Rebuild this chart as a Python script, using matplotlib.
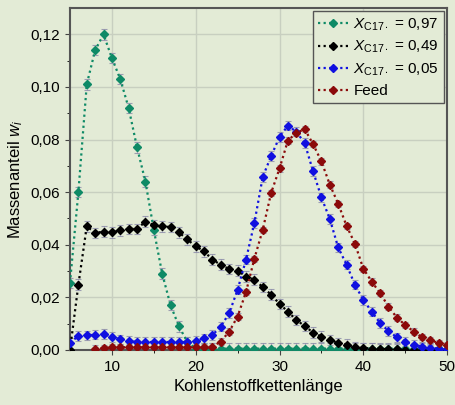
import matplotlib
matplotlib.use("Agg")
import matplotlib.pyplot as plt
import numpy as np

plt.rcParams["font.family"] = ["Liberation Sans", "DejaVu Sans"]
plt.rcParams["mathtext.fontset"] = "custom"
plt.rcParams["mathtext.rm"] = "Liberation Sans"
plt.rcParams["mathtext.it"] = "Liberation Sans:italic"

chain_length = list(range(5, 51))

x097 = [0.0255, 0.060, 0.101, 0.114, 0.120, 0.111, 0.103, 0.092, 0.077, 0.064,
        0.0457, 0.029, 0.017, 0.009, 0.003] + [0.0005] * 31
x049 = [0.0, 0.0248, 0.047, 0.0445, 0.045, 0.0447, 0.0455, 0.046, 0.046, 0.0488,
        0.0475, 0.047, 0.0467, 0.0447, 0.042, 0.0394, 0.0375, 0.0343, 0.0324, 0.0307,
        0.0302, 0.0279, 0.0267, 0.0239, 0.021, 0.0175, 0.0146, 0.0114, 0.0091, 0.0066,
        0.0051, 0.0038, 0.0027, 0.002, 0.0012, 0.0008, 0.0005, 0.0004, 0.0003, 0.0002,
        0.0001, 0.0, 0.0, 0.0, 0.0, 0.0]
x005 = [0.0027, 0.0053, 0.0055, 0.0058, 0.006, 0.005, 0.004, 0.0035, 0.003, 0.003,
        0.003, 0.003, 0.003, 0.003, 0.003, 0.0035, 0.0044, 0.0057, 0.0089, 0.014,
        0.0229, 0.0343, 0.0483, 0.0658, 0.0737, 0.081, 0.0853, 0.083, 0.0787, 0.068,
        0.058, 0.0498, 0.039, 0.0324, 0.0248, 0.019, 0.0146, 0.0102, 0.0072, 0.0048,
        0.0032, 0.002, 0.0013, 0.0008, 0.0005, 0.0004]
feed = [None, None, None, 0.0005, 0.0008, 0.001, 0.001, 0.001, 0.001, 0.001,
        0.001, 0.001, 0.001, 0.001, 0.001, 0.001, 0.001, 0.0013, 0.0032, 0.007,
        0.0127, 0.022, 0.0347, 0.0457, 0.0597, 0.069, 0.0796, 0.0825, 0.084, 0.0783,
        0.0717, 0.0629, 0.0556, 0.0472, 0.0404, 0.0309, 0.026, 0.0216, 0.0165, 0.0123,
        0.0095, 0.007, 0.0048, 0.0036, 0.0027, 0.002]

labels = [r"$X_{\mathrm{C17\bullet}}$ = 0,97", r"$X_{\mathrm{C17\bullet}}$ = 0,49",
          r"$X_{\mathrm{C17\bullet}}$ = 0,05", "Feed"]
colors = ["#0e8a66", "#000000", "#1010e0", "#8b0a0a"]
errs = [0.002, 0.002, 0.0018, 0.0012]

bg = "#e3ebd6"
fig = plt.figure(figsize=(4.56, 4.05), dpi=100, facecolor=bg)
ax = fig.add_axes([0.1535, 0.136, 0.827, 0.844], facecolor=bg)

for vals, lab, col, e in zip([x097, x049, x005, feed], labels, colors, errs):
    xs = [c for c, v in zip(chain_length, vals) if v is not None]
    ys = [v for v in vals if v is not None]
    ax.errorbar(xs, ys, yerr=e, fmt="none", ecolor="#8a8aa8", elinewidth=0.8,
                capsize=2.5, capthick=0.8, alpha=0.8, zorder=2)
    ax.plot(xs, ys, linestyle=(0, (1, 1.5)), color=col, lw=1.6, marker="D",
            markersize=4.3, label=lab, zorder=3)

ax.set_xlim(5, 50)
ax.set_ylim(0, 0.13)
ax.set_xticks([10, 20, 30, 40, 50])
ax.set_yticks([0, 0.02, 0.04, 0.06, 0.08, 0.10, 0.12])
ax.set_yticklabels(["0,00", "0,02", "0,04", "0,06", "0,08", "0,10", "0,12"])
ax.set_xticks([15, 25, 35, 45], minor=True)
ax.set_yticks([0.01, 0.03, 0.05, 0.07, 0.09, 0.11], minor=True)
ax.grid(True, which="major", color="#c8cfc0", lw=1.0)
ax.tick_params(labelsize=11, color="#444444", direction="out")
for s in ax.spines.values():
    s.set_color("#555555")
    s.set_linewidth(1.5)
ax.set_xlabel("Kohlenstoffkettenlänge", fontsize=12)
ax.set_ylabel(r"Massenanteil $w_i$", fontsize=12)

leg = ax.legend(loc="upper right", fontsize=11, frameon=True, fancybox=False,
                handlelength=2.0, handletextpad=0.3, borderpad=0.35, labelspacing=0.4,
                borderaxespad=0.2)
leg.get_frame().set_edgecolor("#555555")
leg.get_frame().set_facecolor(bg)
leg.get_frame().set_alpha(1)

fig.savefig("out.png", dpi=100, facecolor=bg)
